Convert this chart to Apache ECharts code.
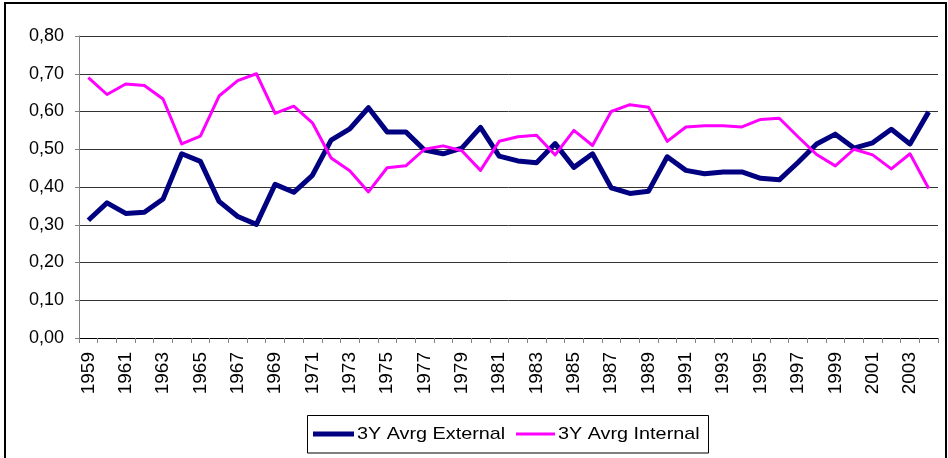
<!DOCTYPE html>
<html>
<head>
<meta charset="utf-8">
<script src="https://cdn.jsdelivr.net/npm/echarts@6/dist/echarts.min.js"></script>
<style>
  html, body { margin: 0; padding: 0; background: #fff; }
  #chart { width: 948px; height: 458px; }
</style>
</head>
<body>
<div id="chart"></div>
<script>
// Years on the category axis
const years = [];
for (let y = 1959; y <= 2004; y++) years.push(String(y));

// Series names
const seriesNames = ['3Y Avrg External', '3Y Avrg Internal'];

// Three-year average shares, 1959–2004
const externalShare = [
  0.312, 0.358, 0.330, 0.333, 0.368, 0.488, 0.468, 0.362, 0.322, 0.301,
  0.407, 0.386, 0.431, 0.524, 0.554, 0.610, 0.546, 0.546, 0.498, 0.488,
  0.503, 0.558, 0.482, 0.469, 0.464, 0.515, 0.452, 0.488, 0.398, 0.383,
  0.389, 0.480, 0.444, 0.435, 0.440, 0.440, 0.423, 0.419, 0.465, 0.514,
  0.540, 0.503, 0.517, 0.553, 0.514, 0.599
];
const internalShare = [
  0.690, 0.645, 0.673, 0.669, 0.633, 0.514, 0.535, 0.641, 0.682, 0.700,
  0.595, 0.614, 0.570, 0.477, 0.443, 0.387, 0.451, 0.456, 0.500, 0.509,
  0.496, 0.444, 0.521, 0.533, 0.537, 0.485, 0.550, 0.510, 0.600, 0.618,
  0.611, 0.521, 0.559, 0.562, 0.562, 0.559, 0.579, 0.582, 0.533, 0.486,
  0.456, 0.500, 0.485, 0.448, 0.488, 0.396
];

// Y axis ticks
const yMin = 0, yMax = 0.8, yStep = 0.1;

const colors = ['#000080', '#ff00ff'];
const widths = [5, 3];
const font = '"Liberation Sans", Arial, sans-serif';

const chart = echarts.init(document.getElementById('chart'), null, { renderer: 'canvas' });

chart.setOption({
  animation: false,
  backgroundColor: '#ffffff',
  grid: { left: 79, top: 36, width: 859, height: 302, containLabel: false },
  xAxis: {
    type: 'category',
    data: years,
    boundaryGap: true,
    axisLine: { show: true, lineStyle: { color: '#000', width: 1 } },
    axisTick: { show: true, interval: 0, length: 5, lineStyle: { color: '#808080', width: 1 } },
    axisLabel: {
      interval: 1, rotate: 90, margin: 14,
      color: '#000', fontSize: 19, fontFamily: font
    },
    splitLine: { show: false }
  },
  yAxis: {
    type: 'value',
    min: yMin, max: yMax, interval: yStep,
    axisLine: { show: true, lineStyle: { color: '#808080', width: 1 } },
    axisTick: { show: true, length: 4, lineStyle: { color: '#808080' } },
    axisLabel: {
      margin: 15, color: '#000', fontSize: 18, fontFamily: font,
      formatter: v => v.toFixed(2).replace('.', ',')
    },
    splitLine: { show: true, lineStyle: { color: '#333', width: 1 } }
  },
  series: [
    {
      name: seriesNames[0], type: 'line', data: externalShare,
      symbol: 'none', smooth: false,
      lineStyle: { color: colors[0], width: widths[0], join: 'round' },
      itemStyle: { color: colors[0] }
    },
    {
      name: seriesNames[1], type: 'line', data: internalShare,
      symbol: 'none', smooth: false,
      lineStyle: { color: colors[1], width: widths[1], join: 'round' },
      itemStyle: { color: colors[1] }
    }
  ],
  graphic: [
    // chart area frame
    { type: 'rect', silent: true, shape: { x: 5, y: 3, width: 941, height: 480 },
      style: { fill: null, stroke: '#000', lineWidth: 2 } },
    // legend box
    { type: 'rect', silent: true, shape: { x: 307.5, y: 415.5, width: 401, height: 37.5 },
      style: { fill: '#fff', stroke: '#000', lineWidth: 1 } },
    { type: 'line', silent: true, shape: { x1: 313, y1: 434, x2: 354, y2: 434 },
      style: { stroke: colors[0], lineWidth: widths[0] } },
    { type: 'text', silent: true, x: 357, y: 434, scaleX: 1.165,
      style: { text: seriesNames[0], fill: '#000', font: '17px ' + font, textVerticalAlign: 'middle' } },
    { type: 'line', silent: true, shape: { x1: 516, y1: 434, x2: 555, y2: 434 },
      style: { stroke: colors[1], lineWidth: widths[1] } },
    { type: 'text', silent: true, x: 558, y: 434, scaleX: 1.165,
      style: { text: seriesNames[1], fill: '#000', font: '17px ' + font, textVerticalAlign: 'middle' } }
  ]
});
</script>
</body>
</html>
